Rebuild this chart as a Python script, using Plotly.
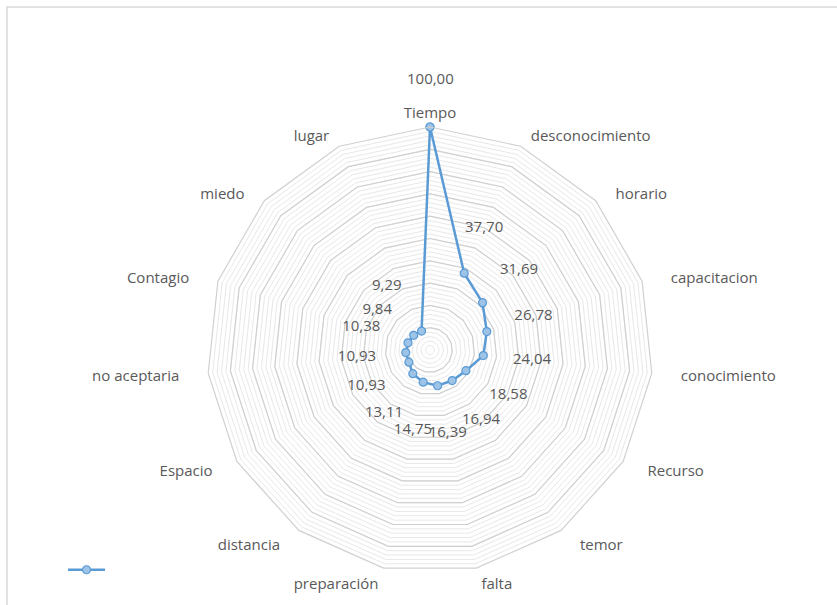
import math
import plotly.graph_objects as go

categories = ["Tiempo", "desconocimiento", "horario", "capacitacion", "conocimiento",
              "Recurso", "temor", "falta", "preparación", "distancia", "Espacio",
              "no aceptaria", "Contagio", "miedo", "lugar"]
values = [100.00, 37.70, 31.69, 26.78, 24.04, 18.58, 16.94, 16.39, 14.75, 13.11,
          10.93, 10.93, 10.38, 9.84, 9.29]
major_levels = [10, 20, 30, 40, 50, 60, 70, 80, 90]
r_max = 100
label_offset = 22

W, H = 837, 605
FONT = "Open Sans, Lato, sans-serif"
TXT = "#595959"

labels = [f"{v:.2f}".replace(".", ",") for v in values]
n = len(categories)

# category tick texts with extra side padding (Excel puts side labels further out)
NB = "\u00a0"
tick_texts = []
for i, c in enumerate(categories):
    s = math.sin(math.radians(360 * i / n))
    k = int(round(6 * abs(s)))
    if s > 0.01:
        tick_texts.append(NB * k + c)
    elif s < -0.01:
        tick_texts.append(c + NB * k)
    else:
        tick_texts.append(c)

dom_x = [207 / W, 653 / W]
dom_y = [32 / H, 478 / H]

fig = go.Figure()

# major grid rings
for lv in major_levels:
    fig.add_trace(go.Scatterpolar(
        r=[lv] * n + [lv], theta=categories + [categories[0]],
        mode="lines", line=dict(color="#d0d0d0", width=1.2),
        hoverinfo="skip", showlegend=False))

# data series
fig.add_trace(go.Scatterpolar(
    r=values + [values[0]], theta=categories + [categories[0]],
    mode="lines+markers", name=" ",
    line=dict(color="#5b9bd5", width=2.5),
    marker=dict(size=8, color="#9dc3e6", line=dict(color="#5b9bd5", width=1.2)),
    showlegend=True))

# data labels
in_r, in_t, in_txt, in_pos = [], [], [], []
annotations = []
cx = (dom_x[0] + dom_x[1]) / 2
cy = (dom_y[0] + dom_y[1]) / 2
rad_px = (dom_x[1] - dom_x[0]) * W / 2
special_pos = {n - 1: "middle left", n - 2: "bottom center"}
for i, (c, v, t) in enumerate(zip(categories, values, labels)):
    rr = v + label_offset
    if rr <= r_max:
        in_r.append(rr)
        in_t.append(c)
        in_txt.append(t)
        in_pos.append(special_pos.get(i, "middle center"))
    else:
        ang = math.radians(90 - 360 * i / n)
        px = rr / r_max * rad_px
        annotations.append(dict(
            x=cx + px * math.cos(ang) / W, y=cy + px * math.sin(ang) / H,
            xref="paper", yref="paper", xanchor="center", yanchor="middle",
            text=t, showarrow=False,
            font=dict(family=FONT, size=15, color=TXT)))

fig.add_trace(go.Scatterpolar(
    r=in_r, theta=in_t,
    mode="text", text=in_txt, textposition=in_pos,
    textfont=dict(family=FONT, size=15, color=TXT),
    cliponaxis=False, hoverinfo="skip", showlegend=False))

fig.update_layout(
    width=W, height=H,
    margin=dict(l=0, r=0, t=0, b=0),
    paper_bgcolor="white",
    font=dict(family=FONT, size=15, color=TXT),
    polar=dict(
        domain=dict(x=dom_x, y=dom_y),
        bgcolor="rgba(0,0,0,0)",
        gridshape="linear",
        radialaxis=dict(range=[0, r_max], dtick=2, showticklabels=False, ticks="",
                        showline=False, gridcolor="#e8e8e8", gridwidth=1),
        angularaxis=dict(direction="clockwise", rotation=90, showgrid=False,
                         showline=True, linecolor="#d0d0d0", linewidth=1.2,
                         ticks="outside", ticklen=2, tickcolor="rgba(0,0,0,0)",
                         tickmode="array", tickvals=categories, ticktext=tick_texts,
                         tickfont=dict(size=15, color=TXT)),
    ),
    legend=dict(x=63 / W, y=(H - 570) / H, xanchor="left", yanchor="middle",
                bgcolor="rgba(0,0,0,0)", itemwidth=37),
    annotations=annotations,
    shapes=[dict(type="rect", xref="paper", yref="paper",
                 x0=7 / W, x1=1.02, y0=-0.02, y1=1 - 7 / H,
                 line=dict(color="#d9d9d9", width=1.5), fillcolor="rgba(0,0,0,0)",
                 layer="below")],
)

fig.write_html("out.html")
